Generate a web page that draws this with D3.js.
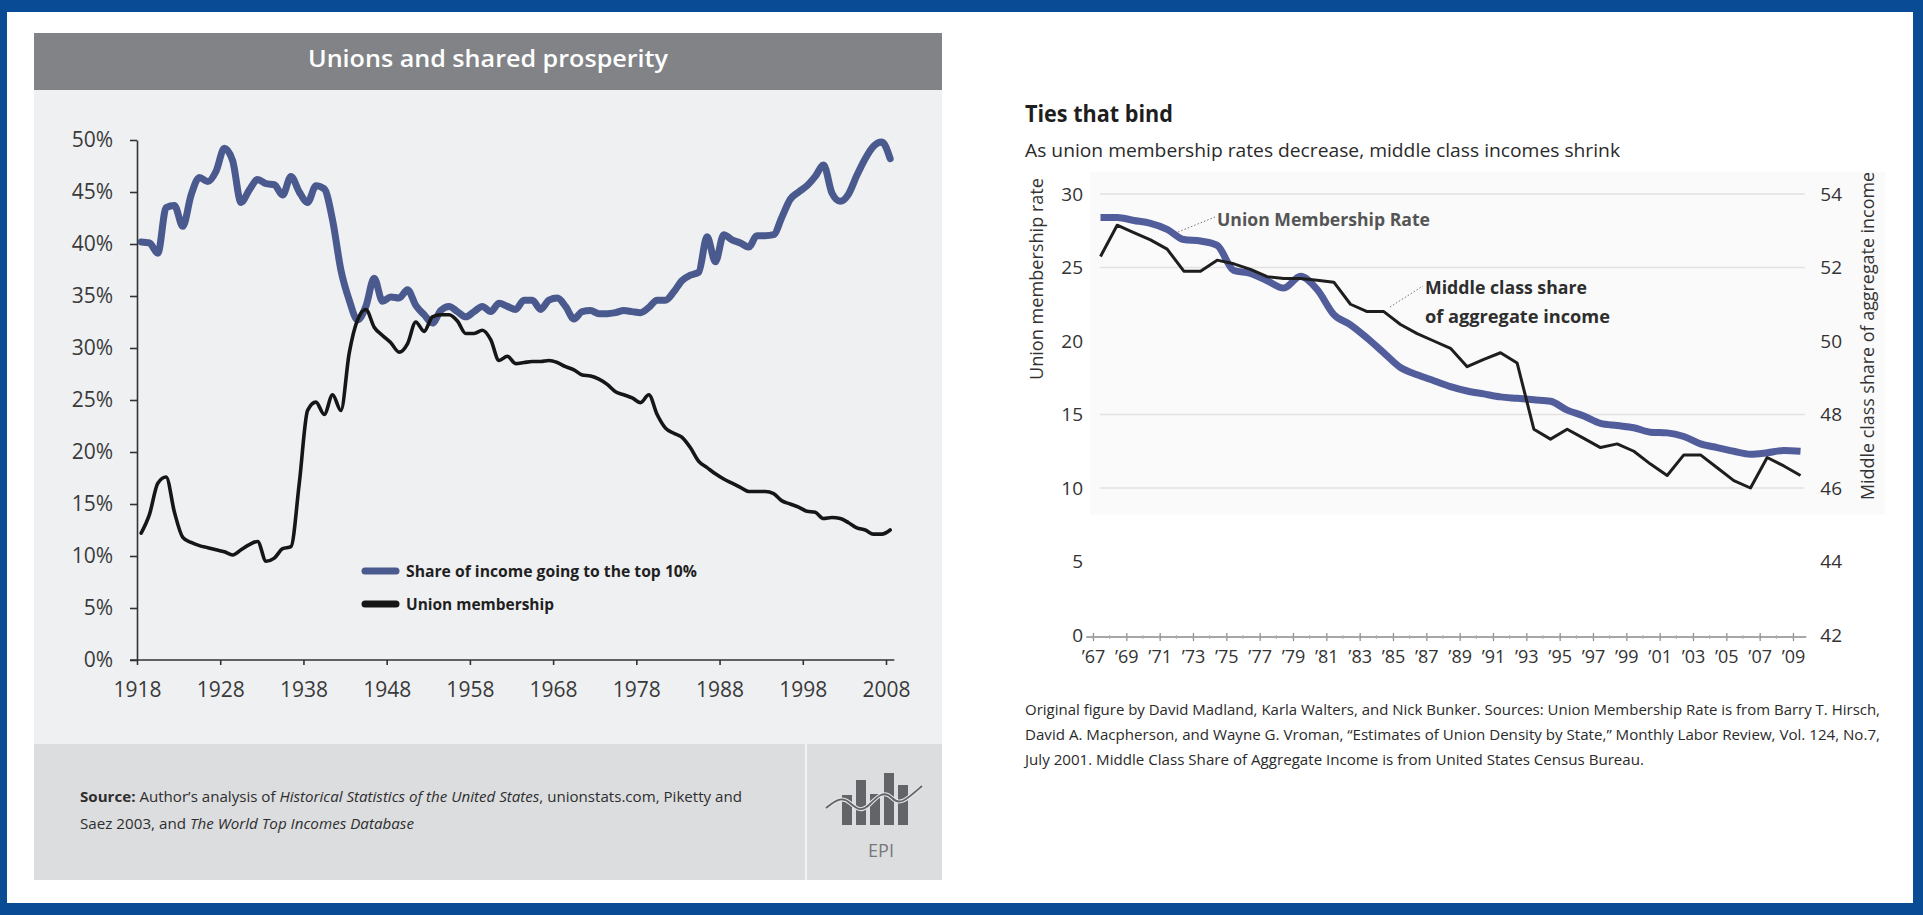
<!DOCTYPE html>
<html>
<head>
<meta charset="utf-8">
<script src="https://cdn.jsdelivr.net/npm/d3@7"></script>
<style>
  html, body { margin: 0; padding: 0; background: #ffffff; }
  svg { display: block; font-family: "Open Sans", "Noto Sans", "DejaVu Sans", sans-serif; }
</style>
</head>
<body>
<svg id="chart" width="1923" height="915"></svg>
<script>
// ---------------- DATA: left chart (Unions and shared prosperity) ----------------
const leftYears = [1918,1919,1920,1921,1922,1923,1924,1925,1926,1927,1928,1929,1930,1931,1932,1933,1934,1935,1936,1937,
  1938,1939,1940,1941,1942,1943,1944,1945,1946,1947,1948,1949,1950,1951,1952,1953,1954,1955,1956,1957,
  1958,1959,1960,1961,1962,1963,1964,1965,1966,1967,1968,1969,1970,1971,1972,1973,1974,1975,1976,1977,
  1978,1979,1980,1981,1982,1983,1984,1985,1986,1987,1988,1989,1990,1991,1992,1993,1994,1995,1996,1997,
  1998,1999,2000,2001,2002,2003,2004,2005,2006,2007,2008];
const top10Share = [40.2,40.1,39.1,43.5,43.7,41.7,44.7,46.4,46.0,47.0,49.2,48.0,44.0,45.2,46.2,45.8,45.7,44.7,46.5,45.0,
  44.0,45.6,45.3,42.3,37.5,34.6,32.7,34.0,36.7,34.5,34.9,34.8,35.6,34.1,33.2,32.4,33.6,34.0,33.5,33.0,
  33.5,34.0,33.5,34.3,34.0,33.7,34.6,34.6,33.7,34.6,34.8,34.0,32.8,33.5,33.6,33.3,33.3,33.4,33.6,33.5,
  33.4,33.9,34.6,34.6,35.4,36.5,37.0,37.3,40.7,38.3,40.9,40.4,40.1,39.7,40.8,40.8,40.9,42.6,44.3,45.0,
  45.6,46.5,47.6,44.9,44.1,44.8,46.6,48.2,49.4,49.8,48.2];
const unionMembership = [12.2,14.0,17.0,17.6,14.2,11.8,11.3,11.0,10.8,10.6,10.4,10.1,10.6,11.1,11.4,9.5,9.8,10.7,10.9,17.0,
  24.0,24.8,23.6,25.5,24.0,29.5,32.7,33.7,32.0,31.2,30.5,29.6,30.4,32.5,31.6,33.0,33.2,33.2,32.6,31.4,
  31.4,31.7,30.8,28.8,29.2,28.5,28.6,28.7,28.7,28.8,28.6,28.2,27.9,27.4,27.3,27.0,26.5,25.8,25.5,25.2,
  24.75,25.5,23.6,22.3,21.8,21.4,20.4,19.1,18.5,17.9,17.4,17.0,16.6,16.2,16.2,16.2,16.0,15.3,15.0,14.7,
  14.3,14.2,13.6,13.7,13.6,13.2,12.7,12.5,12.1,12.1,12.5];
const leftXTicks = [1918,1928,1938,1948,1958,1968,1978,1988,1998,2008];
const leftYTicks = [0,5,10,15,20,25,30,35,40,45,50];
const leftLegend = ["Share of income going to the top 10%", "Union membership"];

// ---------------- DATA: right chart (Ties that bind) ----------------
const rightYears = [1967,1968,1969,1970,1971,1972,1973,1974,1975,1976,1977,1978,1979,1980,1981,1982,1983,1984,1985,1986,
  1987,1988,1989,1990,1991,1992,1993,1994,1995,1996,1997,1998,1999,2000,2001,2002,2003,2004,2005,2006,
  2007,2008,2009];
const unionRate = [28.4,28.4,28.2,28.0,27.6,26.9,26.8,26.5,24.8,24.6,24.1,23.6,24.4,23.5,21.8,21.1,20.2,19.2,18.2,17.7,
  17.3,16.9,16.6,16.4,16.2,16.1,16.0,15.9,15.3,14.9,14.4,14.25,14.1,13.8,13.75,13.5,13.0,12.75,12.5,12.3,
  12.4,12.55,12.5];
const middleClassShare = [52.3,53.15,52.95,52.75,52.5,51.9,51.9,52.2,52.1,51.95,51.75,51.7,51.7,51.65,51.6,51.0,50.8,50.8,50.45,50.2,
  50.0,49.8,49.3,49.5,49.68,49.4,47.6,47.33,47.6,47.35,47.1,47.2,47.0,46.65,46.34,46.9,46.9,46.55,46.2,46.0,
  46.83,46.6,46.34];
const rightXTicks = [1967,1969,1971,1973,1975,1977,1979,1981,1983,1985,1987,1989,1991,1993,1995,1997,1999,2001,2003,2005,2007,2009];
const rightLeftTicks = [0,5,10,15,20,25,30];
const rightRightTicks = [42,44,46,48,50,52,54];
const rightGridTicks = [10,15,25,30];

const footnoteLines = [
  "Original figure by David Madland, Karla Walters, and Nick Bunker. Sources: Union Membership Rate is from Barry T. Hirsch,",
  "David A. Macpherson, and Wayne G. Vroman, \u201CEstimates of Union Density by State,\u201D Monthly Labor Review, Vol. 124, No.7,",
  "July 2001. Middle Class Share of Aggregate Income is from United States Census Bureau."
];

// ---------------- DRAWING ----------------
const svg = d3.select("#chart");

// blue frame
svg.append("rect").attr("x", 0).attr("y", 0).attr("width", 1923).attr("height", 915).attr("fill", "#0a4b95");
svg.append("rect").attr("x", 7).attr("y", 12).attr("width", 1906).attr("height", 891).attr("fill", "#ffffff");

// ===== LEFT PANEL =====
svg.append("rect").attr("x", 34).attr("y", 33).attr("width", 908).attr("height", 57).attr("fill", "#818386");
svg.append("rect").attr("x", 34).attr("y", 90).attr("width", 908).attr("height", 654).attr("fill", "#eff0f2");
svg.append("rect").attr("x", 34).attr("y", 744).attr("width", 908).attr("height", 136).attr("fill", "#dcdddf");
svg.append("line").attr("x1", 806).attr("x2", 806).attr("y1", 744).attr("y2", 880)
  .attr("stroke", "#f4f4f4").attr("stroke-width", 2);

svg.append("text").attr("x", 488).attr("y", 67).attr("text-anchor", "middle")
  .attr("font-size", 24).attr("font-weight", 600).attr("fill", "#ffffff")
  .attr("textLength", 360).attr("lengthAdjust", "spacingAndGlyphs")
  .text("Unions and shared prosperity");

const xL = d3.scaleLinear().domain([1918, 2008]).range([137, 886]);
const yL = d3.scaleLinear().domain([0, 50]).range([660, 140]);

const gL = svg.append("g");

// y axis
const yAxisL = gL.append("g").attr("transform", `translate(${xL(1918)},0)`)
  .call(d3.axisLeft(yL).tickValues(leftYTicks).tickFormat(d => d + "%").tickSize(7).tickSizeOuter(0).tickPadding(17));
yAxisL.select(".domain").attr("stroke", "#333").attr("stroke-width", 1.6);
yAxisL.selectAll(".tick line").attr("stroke", "#333").attr("stroke-width", 1.6);
yAxisL.selectAll(".tick text").attr("font-size", 21).attr("fill", "#3a3a3a")
  .attr("font-family", "'Open Sans', sans-serif");

// x axis
const xAxisL = gL.append("g").attr("transform", `translate(0,${yL(0)})`)
  .call(d3.axisBottom(xL).tickValues(leftXTicks).tickFormat(d3.format("d")).tickSize(5).tickSizeOuter(0).tickPadding(17));
xAxisL.select(".domain").remove();
xAxisL.append("line").attr("x1", xL(1918) - 7).attr("x2", xL(2009)).attr("y1", 0).attr("y2", 0)
  .attr("stroke", "#333").attr("stroke-width", 1.6);
xAxisL.selectAll(".tick line").attr("stroke", "#333").attr("stroke-width", 1.6);
xAxisL.selectAll(".tick text").attr("font-size", 21).attr("fill", "#3a3a3a")
  .attr("font-family", "'Open Sans', sans-serif");

const leftBlue = "#4a5a8e";
const leftBlack = "#161616";

const lineTop = d3.line().x((d, i) => xL(leftYears[i] + 0.5)).y(d => yL(d)).curve(d3.curveMonotoneX);
gL.append("path").datum(top10Share).attr("d", lineTop).attr("fill", "none")
  .attr("stroke", leftBlue).attr("stroke-width", 7).attr("stroke-linejoin", "round").attr("stroke-linecap", "round");
gL.append("path").datum(unionMembership).attr("d", lineTop).attr("fill", "none")
  .attr("stroke", leftBlack).attr("stroke-width", 3.6).attr("stroke-linejoin", "round").attr("stroke-linecap", "round");

// legend
const legL = gL.append("g").attr("transform", "translate(363,571)");
const legColors = [leftBlue, leftBlack];
const legWidths = [291, 148];
leftLegend.forEach((t, i) => {
  const row = legL.append("g").attr("transform", `translate(0,${i * 33})`);
  row.append("line").attr("x1", 2).attr("x2", 33).attr("y1", 0).attr("y2", 0)
    .attr("stroke", legColors[i]).attr("stroke-width", 7).attr("stroke-linecap", "round");
  row.append("text").attr("x", 43).attr("y", 6).attr("font-size", 16).attr("font-weight", 700)
    .attr("fill", "#1f1f1f").attr("textLength", legWidths[i]).attr("lengthAdjust", "spacingAndGlyphs").text(t);
});

// source text
const src1 = svg.append("text").attr("x", 80).attr("y", 802).attr("font-size", 15).attr("fill", "#2e2e2e")
  .attr("textLength", 662).attr("lengthAdjust", "spacingAndGlyphs");
src1.append("tspan").attr("font-weight", 700).text("Source:");
src1.append("tspan").text(" Author\u2019s analysis of ");
src1.append("tspan").attr("font-style", "italic").text("Historical Statistics of the United States");
src1.append("tspan").text(", unionstats.com, Piketty and");
const src2 = svg.append("text").attr("x", 80).attr("y", 829).attr("font-size", 15).attr("fill", "#2e2e2e")
  .attr("textLength", 334).attr("lengthAdjust", "spacingAndGlyphs");
src2.append("tspan").text("Saez 2003, and ");
src2.append("tspan").attr("font-style", "italic").text("The World Top Incomes Database");

// EPI logo
const logo = svg.append("g").attr("fill", "#636468");
logo.append("rect").attr("x", 842).attr("y", 795).attr("width", 10).attr("height", 30);
logo.append("rect").attr("x", 856).attr("y", 780).attr("width", 10).attr("height", 45);
logo.append("rect").attr("x", 870).attr("y", 794).attr("width", 10).attr("height", 31);
logo.append("rect").attr("x", 884).attr("y", 773).attr("width", 10).attr("height", 52);
logo.append("rect").attr("x", 898).attr("y", 785).attr("width", 10).attr("height", 40);
svg.append("path").attr("d", "M826,808 C836,800 842,796 850,803 S862,812 870,804 S884,790 892,798 S906,800 922,786")
  .attr("fill", "none").attr("stroke", "#e6e6e8").attr("stroke-width", 4);
svg.append("path").attr("d", "M826,808 C836,800 842,796 850,803 S862,812 870,804 S884,790 892,798 S906,800 922,786")
  .attr("fill", "none").attr("stroke", "#636468").attr("stroke-width", 1.8);
svg.append("text").attr("x", 881).attr("y", 857).attr("text-anchor", "middle").attr("font-size", 18)
  .attr("fill", "#77787b").attr("textLength", 26).attr("lengthAdjust", "spacingAndGlyphs").text("EPI");

// ===== RIGHT PANEL =====
const xR = d3.scaleLinear().domain([1967, 2009]).range([1093, 1793]);
const yRL = d3.scaleLinear().domain([0, 30]).range([635, 194]);
const yRR = d3.scaleLinear().domain([42, 54]).range([635, 194]);

const gR = svg.append("g");

// faint plot background
gR.append("rect").attr("x", 1090).attr("y", yRL(31.5)).attr("width", 795).attr("height", yRL(8.2) - yRL(31.5))
  .attr("fill", "#fafafa");

// gridlines
gR.selectAll(".grid").data(rightGridTicks).join("line")
  .attr("x1", xR(1967.4)).attr("x2", xR(2009.7))
  .attr("y1", d => yRL(d)).attr("y2", d => yRL(d))
  .attr("stroke", "#e2e2e3").attr("stroke-width", 1.6);

// titles
svg.append("text").attr("x", 1025).attr("y", 122).attr("font-size", 24).attr("font-weight", 700)
  .attr("fill", "#1e1e1e").attr("textLength", 148).attr("lengthAdjust", "spacingAndGlyphs").text("Ties that bind");
svg.append("text").attr("x", 1025).attr("y", 157).attr("font-size", 19)
  .attr("fill", "#2a2a2a").attr("textLength", 595).attr("lengthAdjust", "spacingAndGlyphs")
  .text("As union membership rates decrease, middle class incomes shrink");

// left axis labels
const yAxisRL = gR.append("g").attr("transform", `translate(${xR(1967)},0)`)
  .call(d3.axisLeft(yRL).tickValues(rightLeftTicks).tickSize(0).tickPadding(10));
yAxisRL.select(".domain").remove();
yAxisRL.selectAll(".tick text").attr("font-size", 19).attr("fill", "#333").attr("font-family", "'Open Sans', sans-serif");

// right axis labels
const yAxisRR = gR.append("g").attr("transform", `translate(${xR(2009.8)},0)`)
  .call(d3.axisRight(yRR).tickValues(rightRightTicks).tickSize(0).tickPadding(14));
yAxisRR.select(".domain").remove();
yAxisRR.selectAll(".tick text").attr("font-size", 19).attr("fill", "#333").attr("font-family", "'Open Sans', sans-serif");

// x axis
const xAxisR = gR.append("g").attr("transform", `translate(0,${yRL(0) + 2})`)
  .call(d3.axisBottom(xR).tickValues(rightXTicks).tickFormat(d => "\u2019" + String(d).slice(2)).tickSize(4).tickSizeOuter(0).tickPadding(9));
xAxisR.select(".domain").remove();
xAxisR.append("line").attr("x1", xR(1966.6)).attr("x2", xR(2009.8)).attr("y1", 0).attr("y2", 0)
  .attr("stroke", "#8a8a8a").attr("stroke-width", 1.4);
xAxisR.selectAll(".tick line").attr("stroke", "#8a8a8a").attr("stroke-width", 1.2).attr("y1", -4);
xAxisR.selectAll(".tick text").attr("font-size", 18).attr("fill", "#333").attr("font-family", "'Open Sans', sans-serif");
xAxisR.selectAll(".minor").data(rightYears).join("line")
  .attr("x1", d => xR(d)).attr("x2", d => xR(d)).attr("y1", -2).attr("y2", 2)
  .attr("stroke", "#b0b0b0").attr("stroke-width", 1);

// axis titles
svg.append("text").attr("transform", "translate(1036,279) rotate(-90)").attr("text-anchor", "middle")
  .attr("dominant-baseline", "central").attr("font-size", 18).attr("fill", "#333")
  .attr("textLength", 202).attr("lengthAdjust", "spacingAndGlyphs").text("Union membership rate");
svg.append("text").attr("transform", "translate(1867,336) rotate(-90)").attr("text-anchor", "middle")
  .attr("dominant-baseline", "central").attr("font-size", 18).attr("fill", "#333")
  .attr("textLength", 328).attr("lengthAdjust", "spacingAndGlyphs").text("Middle class share of aggregate income");

// lines
const lineUnion = d3.line().x((d, i) => xR(rightYears[i] + 0.45)).y(d => yRL(d)).curve(d3.curveMonotoneX);
const lineMid = d3.line().x((d, i) => xR(rightYears[i] + 0.45)).y(d => yRR(d));
gR.append("path").datum(unionRate).attr("d", lineUnion).attr("fill", "none")
  .attr("stroke", "#525d9c").attr("stroke-width", 7).attr("stroke-linejoin", "round").attr("stroke-linecap", "butt");
gR.append("path").datum(middleClassShare).attr("d", lineMid).attr("fill", "none")
  .attr("stroke", "#1e1e1e").attr("stroke-width", 3).attr("stroke-linejoin", "round");

// annotations
gR.append("line").attr("x1", 1178).attr("y1", 232).attr("x2", 1215).attr("y2", 217)
  .attr("stroke", "#777").attr("stroke-width", 1).attr("stroke-dasharray", "1.5,2");
gR.append("text").attr("x", 1217).attr("y", 226).attr("font-size", 17).attr("font-weight", 700)
  .attr("fill", "#555555").attr("textLength", 213).attr("lengthAdjust", "spacingAndGlyphs").text("Union Membership Rate");
gR.append("line").attr("x1", 1390).attr("y1", 307).attr("x2", 1423).attr("y2", 286)
  .attr("stroke", "#777").attr("stroke-width", 1).attr("stroke-dasharray", "1.5,2");
gR.append("text").attr("x", 1425).attr("y", 294).attr("font-size", 18).attr("font-weight", 700)
  .attr("fill", "#2e2e2e").attr("textLength", 162).attr("lengthAdjust", "spacingAndGlyphs").text("Middle class share");
gR.append("text").attr("x", 1425).attr("y", 323).attr("font-size", 18).attr("font-weight", 700)
  .attr("fill", "#2e2e2e").attr("textLength", 185).attr("lengthAdjust", "spacingAndGlyphs").text("of aggregate income");

// footnote
const footLens = [855, 855, 619];
footnoteLines.forEach((t, i) => {
  svg.append("text").attr("x", 1025).attr("y", 715 + i * 25).attr("font-size", 14).attr("fill", "#2a2a2a")
    .attr("textLength", footLens[i]).attr("lengthAdjust", "spacingAndGlyphs").text(t);
});
</script>
</body>
</html>
